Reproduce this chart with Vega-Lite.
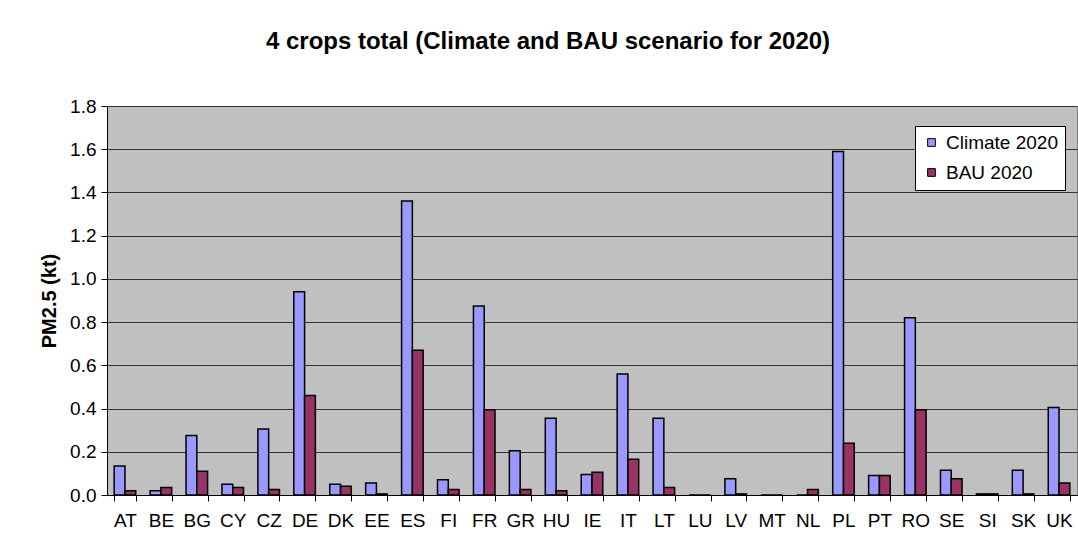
{
  "$schema": "https://vega.github.io/schema/vega-lite/v6.json",
  "autosize": {"type": "none"},
  "padding": {"left": 107, "top": 106, "right": 1, "bottom": 59},
  "width": 970,
  "height": 389,
  "background": "white",
  "title": {
    "text": "4 crops total (Climate and BAU scenario for 2020)",
    "font": "Liberation Sans",
    "fontSize": 24,
    "fontWeight": "bold",
    "color": "black",
    "anchor": "middle",
    "dx": -44,
    "offset": 43
  },
  "data": {
    "values": [
      {"country": "AT", "scenario": "Climate 2020", "value": 0.134},
      {"country": "AT", "scenario": "BAU 2020", "value": 0.02},
      {"country": "BE", "scenario": "Climate 2020", "value": 0.02},
      {"country": "BE", "scenario": "BAU 2020", "value": 0.035},
      {"country": "BG", "scenario": "Climate 2020", "value": 0.275},
      {"country": "BG", "scenario": "BAU 2020", "value": 0.11},
      {"country": "CY", "scenario": "Climate 2020", "value": 0.05},
      {"country": "CY", "scenario": "BAU 2020", "value": 0.035},
      {"country": "CZ", "scenario": "Climate 2020", "value": 0.305},
      {"country": "CZ", "scenario": "BAU 2020", "value": 0.025},
      {"country": "DE", "scenario": "Climate 2020", "value": 0.94},
      {"country": "DE", "scenario": "BAU 2020", "value": 0.46},
      {"country": "DK", "scenario": "Climate 2020", "value": 0.05},
      {"country": "DK", "scenario": "BAU 2020", "value": 0.04},
      {"country": "EE", "scenario": "Climate 2020", "value": 0.055},
      {"country": "EE", "scenario": "BAU 2020", "value": 0.005},
      {"country": "ES", "scenario": "Climate 2020", "value": 1.36},
      {"country": "ES", "scenario": "BAU 2020", "value": 0.67},
      {"country": "FI", "scenario": "Climate 2020", "value": 0.07},
      {"country": "FI", "scenario": "BAU 2020", "value": 0.025},
      {"country": "FR", "scenario": "Climate 2020", "value": 0.875},
      {"country": "FR", "scenario": "BAU 2020", "value": 0.395},
      {"country": "GR", "scenario": "Climate 2020", "value": 0.205},
      {"country": "GR", "scenario": "BAU 2020", "value": 0.025},
      {"country": "HU", "scenario": "Climate 2020", "value": 0.355},
      {"country": "HU", "scenario": "BAU 2020", "value": 0.02},
      {"country": "IE", "scenario": "Climate 2020", "value": 0.095},
      {"country": "IE", "scenario": "BAU 2020", "value": 0.105},
      {"country": "IT", "scenario": "Climate 2020", "value": 0.56},
      {"country": "IT", "scenario": "BAU 2020", "value": 0.165},
      {"country": "LT", "scenario": "Climate 2020", "value": 0.355},
      {"country": "LT", "scenario": "BAU 2020", "value": 0.035},
      {"country": "LU", "scenario": "Climate 2020", "value": 0},
      {"country": "LU", "scenario": "BAU 2020", "value": 0},
      {"country": "LV", "scenario": "Climate 2020", "value": 0.075},
      {"country": "LV", "scenario": "BAU 2020", "value": 0.005},
      {"country": "MT", "scenario": "Climate 2020", "value": 0},
      {"country": "MT", "scenario": "BAU 2020", "value": 0},
      {"country": "NL", "scenario": "Climate 2020", "value": 0},
      {"country": "NL", "scenario": "BAU 2020", "value": 0.025},
      {"country": "PL", "scenario": "Climate 2020", "value": 1.59},
      {"country": "PL", "scenario": "BAU 2020", "value": 0.24},
      {"country": "PT", "scenario": "Climate 2020", "value": 0.09},
      {"country": "PT", "scenario": "BAU 2020", "value": 0.09},
      {"country": "RO", "scenario": "Climate 2020", "value": 0.82},
      {"country": "RO", "scenario": "BAU 2020", "value": 0.395},
      {"country": "SE", "scenario": "Climate 2020", "value": 0.115},
      {"country": "SE", "scenario": "BAU 2020", "value": 0.075},
      {"country": "SI", "scenario": "Climate 2020", "value": 0.005},
      {"country": "SI", "scenario": "BAU 2020", "value": 0.005},
      {"country": "SK", "scenario": "Climate 2020", "value": 0.115},
      {"country": "SK", "scenario": "BAU 2020", "value": 0.005},
      {"country": "UK", "scenario": "Climate 2020", "value": 0.405},
      {"country": "UK", "scenario": "BAU 2020", "value": 0.055}
    ]
  },
  "mark": {"type": "bar", "stroke": "black", "strokeWidth": 1.5},
  "encoding": {
    "x": {
      "field": "country",
      "type": "nominal",
      "sort": null,
      "scale": {"paddingInner": 0.4, "paddingOuter": 0.2},
      "axis": {
        "title": null,
        "labelAngle": 0,
        "labelFont": "Liberation Sans",
        "labelFontSize": 19,
        "labelColor": "black",
        "labelPadding": 10,
        "tickBand": "extent",
        "tickSize": 6,
        "tickColor": "black",
        "domainColor": "black",
        "grid": false
      }
    },
    "xOffset": {"field": "scenario", "sort": ["Climate 2020", "BAU 2020"], "scale": {"paddingInner": 0}},
    "y": {
      "field": "value",
      "type": "quantitative",
      "scale": {"domain": [0, 1.8], "nice": false},
      "axis": {
        "title": "PM2.5 (kt)",
        "titleFont": "Liberation Sans",
        "titleFontSize": 20,
        "titleFontWeight": "bold",
        "titleColor": "black",
        "titlePadding": 10,
        "values": [0, 0.2, 0.4, 0.6, 0.8, 1.0, 1.2, 1.4, 1.6, 1.8],
        "format": ".1f",
        "labelFont": "Liberation Sans",
        "labelFontSize": 19,
        "labelColor": "black",
        "labelPadding": 5,
        "tickSize": 6,
        "tickColor": "black",
        "domainColor": "black",
        "grid": true,
        "gridColor": "#333333",
        "gridWidth": 1
      }
    },
    "color": {
      "field": "scenario",
      "type": "nominal",
      "scale": {"domain": ["Climate 2020", "BAU 2020"], "range": ["#9999FF", "#993366"]},
      "legend": {
        "title": null,
        "orient": "none",
        "legendX": 808,
        "legendY": 20,
        "fillColor": "white",
        "strokeColor": "black",
        "padding": 7,
        "labelFont": "Liberation Sans",
        "labelFontSize": 19,
        "labelColor": "black",
        "symbolType": "square",
        "symbolSize": 60,
        "symbolStrokeColor": "black",
        "symbolStrokeWidth": 1,
        "rowPadding": 10,
        "labelOffset": 5
      }
    }
  },
  "config": {
    "view": {"fill": "#C0C0C0", "stroke": "#808080", "strokeWidth": 1}
  }
}
